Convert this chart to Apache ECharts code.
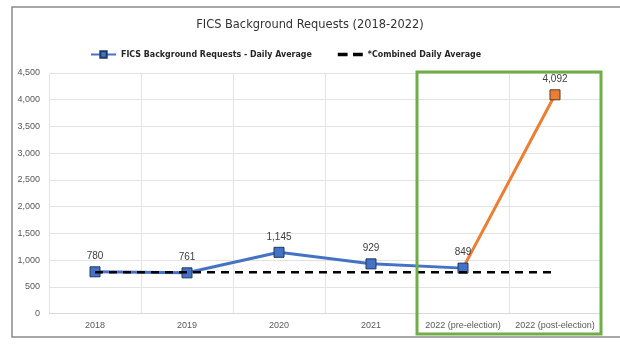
<!DOCTYPE html>
<html>
<head>
<meta charset="utf-8">
<script src="https://cdn.jsdelivr.net/npm/echarts@6/dist/echarts.min.js"></script>
<style>html,body{margin:0;padding:0;background:#fff;}#c{width:620px;height:351px;}</style>
</head>
<body>
<div id="c"></div>
<script>
const categories = ['2018', '2019', '2020', '2021', '2022 (pre-election)', '2022 (post-election)'];
const dailyAverage = [780, 761, 1145, 929, 849, null];
const postElection = [null, null, null, null, 849, 4092];
const combinedAverage = [770, 770, 770, 770, 770, 770];
const yTicks = { min: 0, max: 4500, interval: 500 };

const narrow = '"DejaVu Sans Condensed", "Liberation Sans", sans-serif';
const chart = echarts.init(document.getElementById('c'), null, { renderer: 'canvas' });
const labelStyle = { show: true, position: 'top', fontSize: 10, color: '#404040', fontFamily: 'Liberation Sans, Arial, sans-serif',
  formatter: p => p.value == null ? '' : Number(p.value).toLocaleString('en-US') };

chart.setOption({
  backgroundColor: '#fff',
  animation: false,
  title: {
    text: 'FICS Background Requests (2018-2022)', left: 'center', top: 13,
    textStyle: { fontSize: 12.7, fontWeight: 'normal', color: '#333', fontFamily: narrow }
  },
  legend: {
    top: 45, left: 85, itemGap: 26, itemWidth: 25, itemHeight: 8,
    data: [
      { name: 'FICS Background Requests - Daily Average' },
      { name: '*Combined Daily Average', icon: 'path://M0,0H9V3H0Z M14,0H23V3H14Z', itemStyle: { color: '#000' } }
    ],
    textStyle: { fontSize: 8.8, fontWeight: 'bold', color: '#262626', fontFamily: narrow }
  },
  grid: { left: 49, right: 19, top: 73, bottom: 37.5, containLabel: false },
  xAxis: {
    type: 'category', data: categories, boundaryGap: true,
    axisLine: { show: true, lineStyle: { color: '#d9d9d9', width: 1 } },
    axisTick: { show: false },
    splitLine: { show: true, lineStyle: { color: '#e3e3e3', width: 1 } },
    axisLabel: { fontSize: 9, color: '#595959', margin: 8, fontFamily: 'Liberation Sans, Arial, sans-serif', interval: 0 }
  },
  yAxis: {
    type: 'value', min: yTicks.min, max: yTicks.max, interval: yTicks.interval,
    axisLine: { show: false }, axisTick: { show: false },
    splitLine: { lineStyle: { color: '#e3e3e3', width: 1 } },
    axisLabel: { fontSize: 9, color: '#595959', margin: 9, fontFamily: 'Liberation Sans, Arial, sans-serif',
      formatter: v => v.toLocaleString('en-US') }
  },
  series: [
    {
      name: 'post', type: 'line', data: postElection.map((v, i) => i === 4 ? { value: v, symbol: 'none', label: { show: false } } : v),
      symbol: 'rect', symbolSize: 10, connectNulls: false, z: 2,
      lineStyle: { color: '#ED7D31', width: 3 },
      itemStyle: { color: '#ED7D31', borderColor: '#5a3a20', borderWidth: 1 },
      label: labelStyle
    },
    {
      name: 'FICS Background Requests - Daily Average', type: 'line', data: dailyAverage,
      symbol: 'rect', symbolSize: 10, z: 3,
      lineStyle: { color: '#4472C4', width: 3 },
      itemStyle: { color: '#4472C4', borderColor: '#1f3864', borderWidth: 1 },
      label: labelStyle
    },
    {
      name: '*Combined Daily Average', type: 'line', data: combinedAverage,
      symbol: 'none', z: 4,
      lineStyle: { color: '#000', width: 2.5, type: [8, 6] },
      itemStyle: { color: '#000' }
    }
  ]
});

// Annotation frame around the 2022 categories, positioned from the axis scales
const xPre = chart.convertToPixel({ xAxisIndex: 0 }, categories[4]);
const xPost = chart.convertToPixel({ xAxisIndex: 0 }, categories[5]);
const x2021 = chart.convertToPixel({ xAxisIndex: 0 }, categories[3]);
const yTop = chart.convertToPixel({ yAxisIndex: 0 }, yTicks.max);
const half = (xPost - xPre) / 2;
chart.setOption({
  graphic: [
    { type: 'rect', shape: { x: 12, y: 7, width: 620, height: 330 }, style: { fill: 'none', stroke: '#8a8a8a', lineWidth: 1.5 }, silent: true, z: 100 },
    { type: 'rect', shape: { x: (x2021 + xPre) / 2, y: yTop - 1, width: xPost + half - (x2021 + xPre) / 2, height: 335 - yTop }, style: { fill: 'none', stroke: '#70AD47', lineWidth: 3 }, silent: true, z: 100 }
  ]
});
</script>
</body>
</html>
